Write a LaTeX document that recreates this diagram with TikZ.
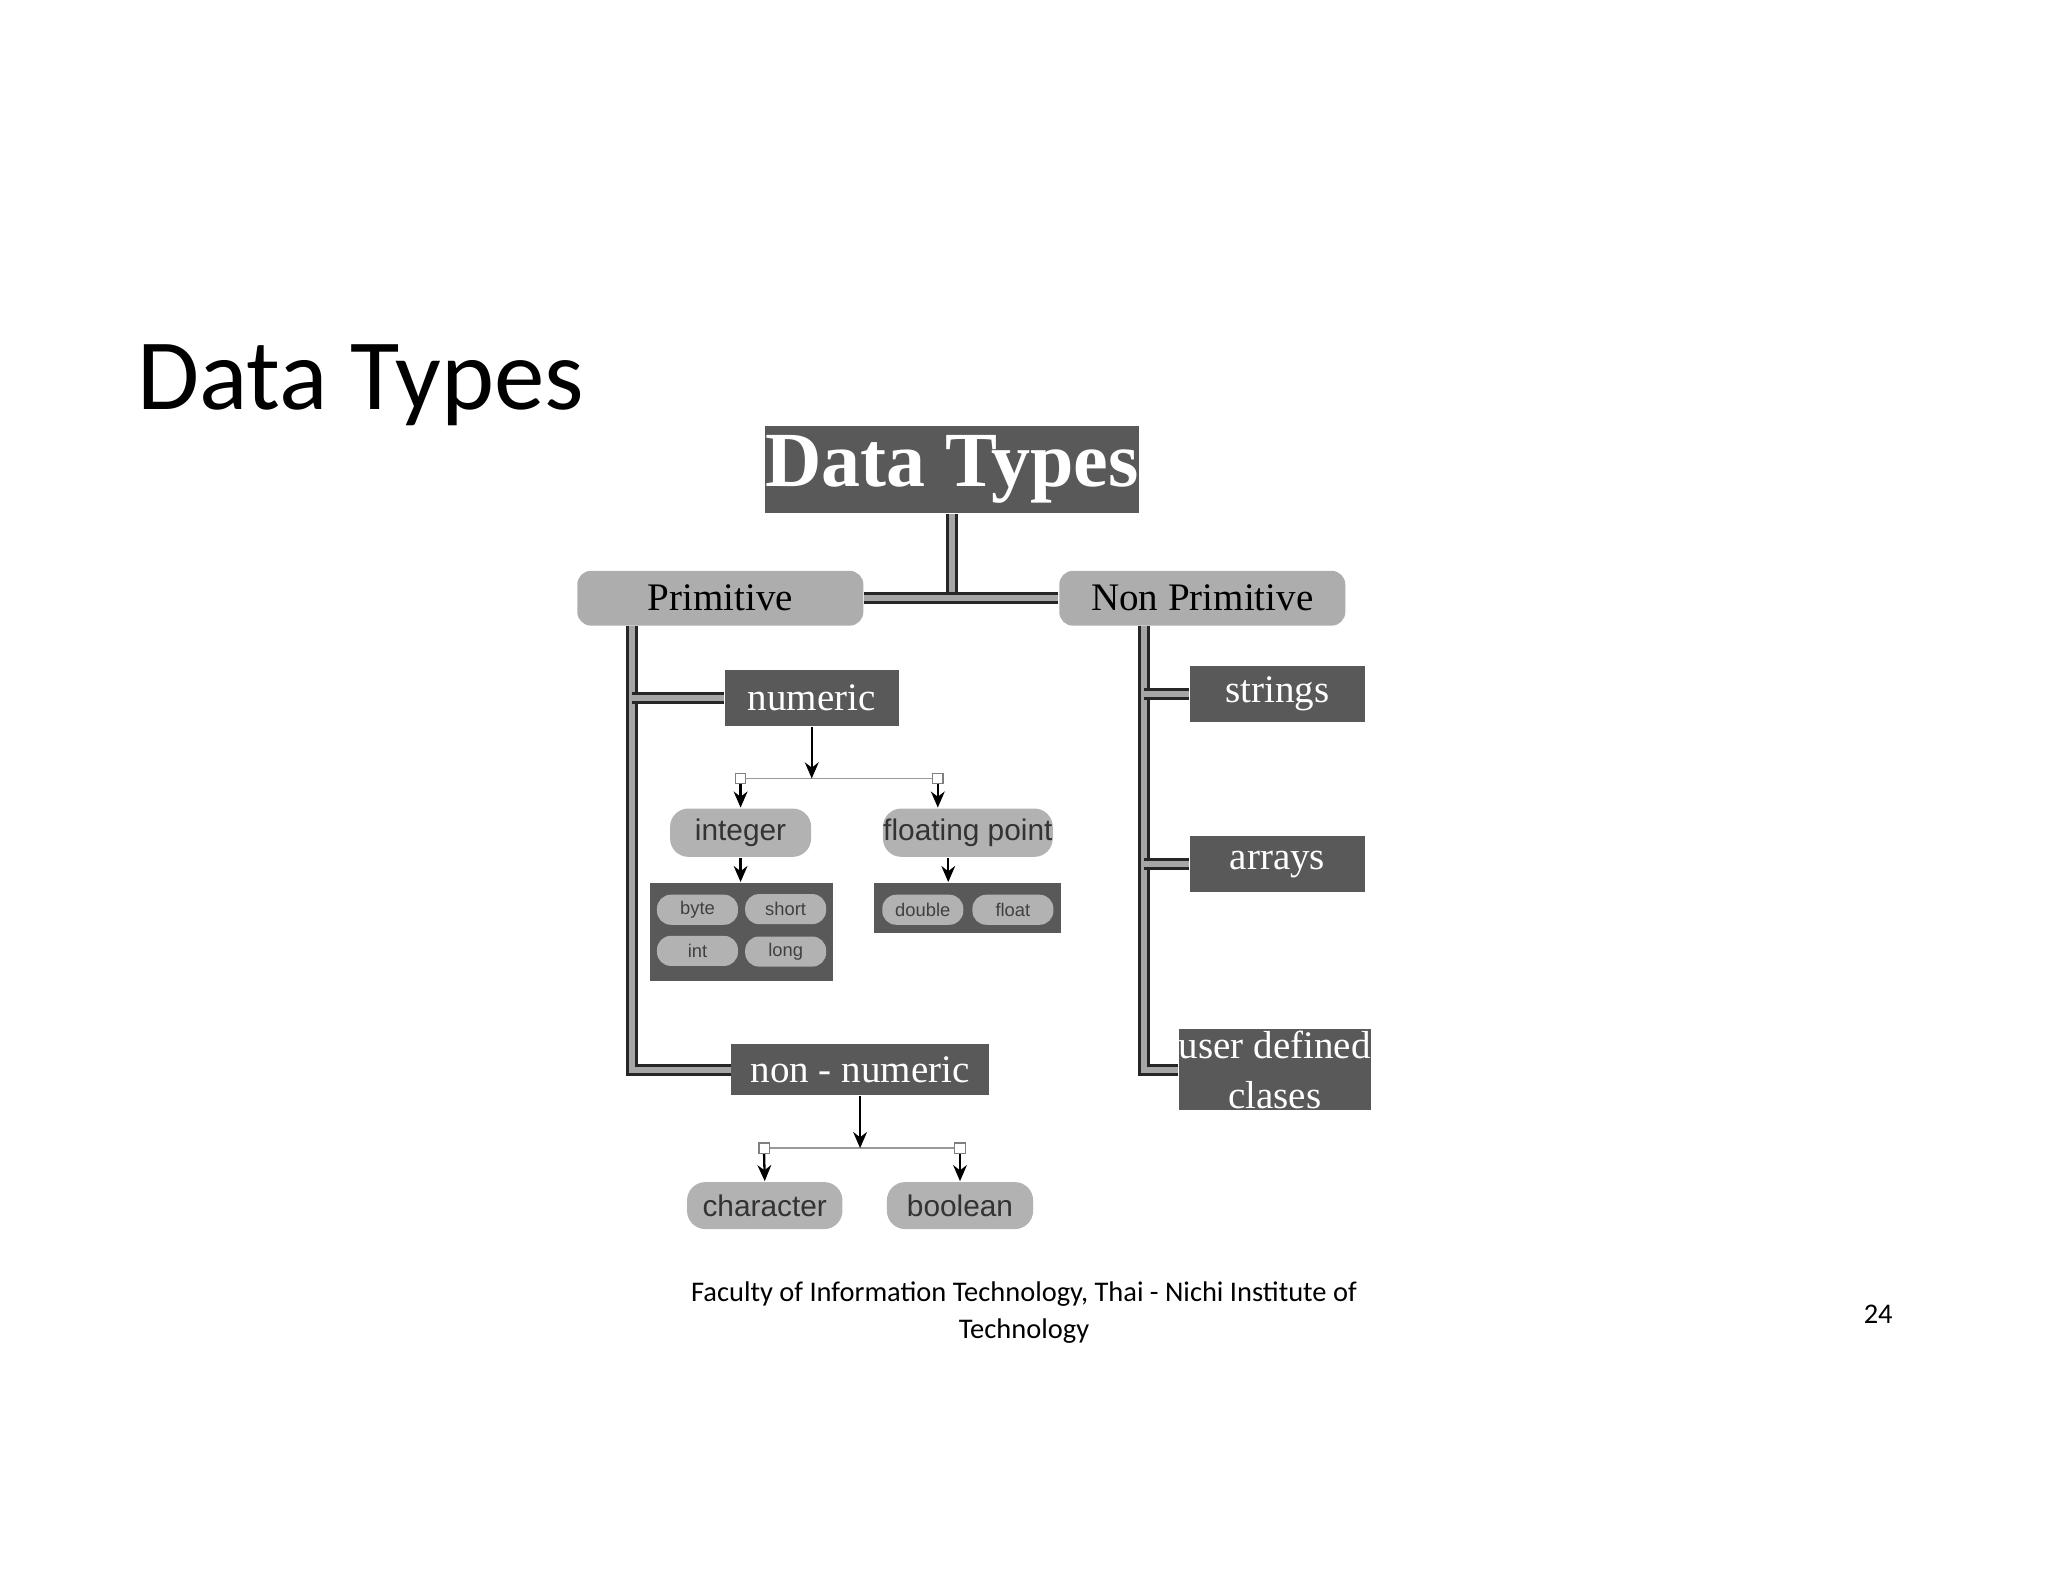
\documentclass[tikz,border=0pt]{standalone}
\usepackage{fontspec}
\setmainfont{Carlito}
\newfontfamily\slab{Liberation Serif}
\newfontfamily\arial{Liberation Sans}
\usetikzlibrary{arrows.meta,positioning}
\tikzset{
  dark/.style={fill=black!65, text=white, inner sep=0pt, font=\slab\fontsize{8.5}{10}\selectfont},
  light/.style={fill=black!32, text=black, rounded corners=3pt, inner sep=0pt, font=\slab\fontsize{8.5}{10}\selectfont},
  leaf/.style={fill=black!30, text=black!80, rounded corners=4pt, inner sep=0pt, font=\arial\fontsize{6.5}{8}\selectfont},
  tiny/.style={fill=black!30, text=black!75, rounded corners=3pt, inner sep=0pt, minimum width=0.62cm, minimum height=0.23cm, font=\arial\fontsize{4}{5}\selectfont},
  ladder/.style={draw=black!85, line width=0.7pt, double=black!35, double distance=1.3pt},
  arr/.style={-{Stealth[length=3.5pt,width=3pt]}, black, line width=0.5pt},
  sq/.style={draw=black!50, fill=white, minimum size=0.08cm, inner sep=0pt, line width=0.3pt}
}
\begin{document}
\begin{tikzpicture}
\useasboundingbox (0,0) rectangle (15.68,-12.11);

% titles
\node (title) at (2.76,-2.95) {\fontsize{22}{26}\selectfont Data Types};
\node[dark, minimum width=2.84cm, minimum height=0.67cm, font=\slab\bfseries\fontsize{17}{20}\selectfont] (types) at (7.29,-3.595) {Data Types};

% first level
\node[light, minimum width=2.19cm, minimum height=0.42cm] (prim) at (5.515,-4.58) {Primitive};
\node[light, minimum width=2.19cm, minimum height=0.42cm] (nonprim) at (9.205,-4.58) {Non Primitive};
\draw[ladder] (types.south) -- (types.south |- prim.east);
\draw[ladder] (prim.east) -- (nonprim.west);

% primitive branch
\coordinate (ptop) at (4.84,-4.79);
\coordinate (pbot) at (4.84,-8.19);
\node[dark, minimum width=1.33cm, minimum height=0.43cm] (numeric) at (6.215,-5.345) {numeric};
\node[dark, minimum width=1.97cm, minimum height=0.39cm] (nonnum) at (6.585,-8.19) {non - numeric};
\draw[ladder] (ptop) -- (pbot) -- (nonnum.west);
\draw[ladder] (ptop |- numeric.west) -- (numeric.west);

% numeric
\node[sq] (sqa) at (5.67,-5.96) {};
\node[sq] (sqb) at (7.18,-5.96) {};
\draw[black!40, line width=0.4pt] (sqa) -- (sqb);
\draw[arr] (numeric.south) -- (numeric.south |- sqa);
\node[leaf, minimum width=1.08cm, minimum height=0.37cm] (integer) at (5.67,-6.375) {integer};
\node[leaf, minimum width=1.30cm, minimum height=0.37cm] (fpoint) at (7.41,-6.375) {floating point};
\draw[arr] (sqa.south) -- (integer.north);
\draw[arr] (sqb.south) -- (sqb.south |- fpoint.north);

\node[dark, minimum width=1.40cm, minimum height=0.75cm] (intbox) at (5.68,-7.135) {};
\node[dark, minimum width=1.43cm, minimum height=0.38cm] (fbox) at (7.405,-6.95) {};
\draw[arr] (integer.south) -- (integer.south |- intbox.north);
\draw[arr] ([xshift=-0.15cm]fpoint.south) -- ([xshift=-0.15cm]fpoint.south |- fbox.north);
\node[tiny] (byte) at (5.34,-6.965) {byte};
\node[tiny] (short) at (6.015,-6.96) {short};
\node[tiny] (int) at (5.34,-7.28) {int};
\node[tiny] (long) at (6.015,-7.285) {long};
\node[tiny] (double) at (7.065,-6.965) {double};
\node[tiny] (float) at (7.755,-6.965) {float};

% non-numeric
\node[sq] (sqc) at (5.85,-8.79) {};
\node[sq] (sqd) at (7.35,-8.79) {};
\draw[black!40, line width=0.4pt] (sqc) -- (sqd);
\draw[arr] (nonnum.south) -- (nonnum.south |- sqc);
\node[leaf, minimum width=1.19cm, minimum height=0.36cm] (character) at (5.855,-9.23) {character};
\node[leaf, minimum width=1.12cm, minimum height=0.36cm] (boolean) at (7.35,-9.23) {boolean};
\draw[arr] (sqc.south) -- (character.north);
\draw[arr] (sqd.south) -- (boolean.north);

% non primitive branch
\coordinate (ntop) at (8.76,-4.79);
\coordinate (nbot) at (8.76,-8.19);
\node[dark, minimum width=1.34cm, minimum height=0.43cm] (strings) at (9.78,-5.315) {strings};
\node[dark, minimum width=1.34cm, minimum height=0.43cm] (arrays) at (9.78,-6.615) {arrays};
\node[dark, minimum width=1.42cm, minimum height=0.62cm, align=center, font=\slab\fontsize{8.5}{11}\selectfont] (user) at (9.76,-8.19) {user defined\\clases};
\draw[ladder] (ntop) -- (nbot) -- (user.west);
\draw[ladder] (ntop |- strings.west) -- (strings.west);
\draw[ladder] (ntop |- arrays.west) -- (arrays.west);

% footer
\node[align=center, font=\fontsize{6.2}{8}\selectfont] (footer) at (7.84,-10.05) {Faculty of Information Technology, Thai - Nichi Institute of\\Technology};
\node[font=\fontsize{6.2}{8}\selectfont] (page) at (14.38,-10.06) {24};
\end{tikzpicture}
\end{document}
